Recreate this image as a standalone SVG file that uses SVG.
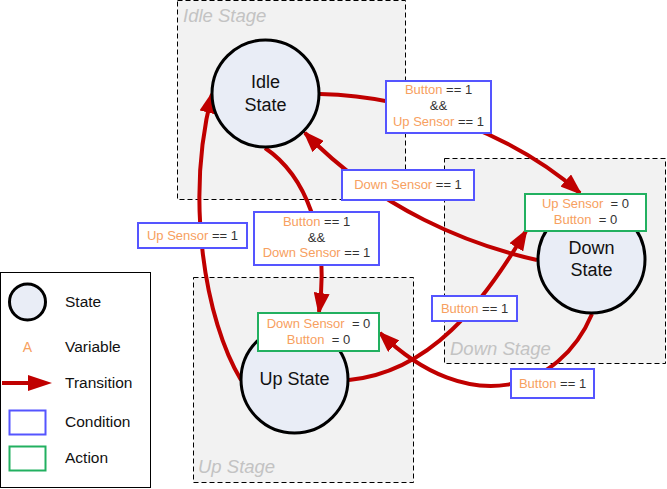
<svg xmlns="http://www.w3.org/2000/svg" width="667" height="489" viewBox="0 0 667 489">
<style>
.stage{fill:#f2f2f2;stroke:#000;stroke-width:1;stroke-dasharray:5,3}
.stlbl{font-family:"Liberation Sans",Arial,sans-serif;font-size:18.5px;font-style:italic;fill:#c3c3c3}
.state{fill:#e9edf6;stroke:#000;stroke-width:3}
.sttxt{font-family:"Liberation Sans",Arial,sans-serif;font-size:18px;fill:#111;text-anchor:middle}
.cond{fill:#fff;stroke:#5555ff;stroke-width:2}
.act{fill:#fff;stroke:#22b060;stroke-width:2}
.bt{font-family:"Liberation Sans",Arial,sans-serif;font-size:13px;fill:#333;text-anchor:middle;white-space:pre}
.v{fill:#f7a060}
.edge{fill:none;stroke:#c00000;stroke-width:4;marker-end:url(#ah)}
.lg{font-family:"Liberation Sans",Arial,sans-serif;font-size:15.5px;fill:#111}
</style>
<defs>
<marker id="ah" viewBox="0 0 22 16" refX="19" refY="8" markerWidth="22" markerHeight="16" markerUnits="userSpaceOnUse" orient="auto">
<path d="M0,0 L22,8 L0,16 z" fill="#c00000"/>
</marker>
</defs>
<rect width="667" height="489" fill="#fff"/>
<g id="idle-stage"><rect class="stage" x="177.5" y="0.5" width="228" height="199"/><text class="stlbl" x="183" y="22">Idle Stage</text></g>
<g id="down-stage"><rect class="stage" x="444.5" y="158.5" width="221" height="205"/><text class="stlbl" x="450" y="355">Down Stage</text></g>
<g id="up-stage"><rect class="stage" x="193.5" y="277.5" width="220" height="205"/><text class="stlbl" x="198" y="473">Up Stage</text></g>
<g id="connectors">
<path class="edge" d="M320,94 C420,96 520,140 580,193"/>
<path class="edge" d="M537,260 C470,245 380,210 305,133"/>
<path class="edge" d="M265,148 C305,175 330,235 319,312"/>
<path class="edge" d="M241,380 C205,320 185,200 212,94"/>
<path class="edge" d="M349,380 C430,372 482,305 526,231"/>
<path class="edge" d="M592,314 C560,390 470,420 380,333"/>
</g>
<g id="idle-state"><circle class="state" cx="265.5" cy="93.5" r="53.5"/><text class="sttxt" x="265.5" y="88">Idle</text><text class="sttxt" x="265.5" y="111">State</text></g>
<g id="down-state"><circle class="state" cx="591.5" cy="259.5" r="53.5"/><text class="sttxt" x="591.5" y="254">Down</text><text class="sttxt" x="591.5" y="276">State</text></g>
<g id="up-state"><circle class="state" cx="294.5" cy="379.5" r="53.5"/><text class="sttxt" x="294.5" y="385">Up State</text></g>
<g id="cond-idle-down"><rect class="cond" x="386" y="81" width="105" height="52"/>
<text class="bt" x="438.5" y="94"><tspan class="v">Button</tspan> == 1</text>
<text class="bt" x="438.5" y="110">&amp;&amp;</text>
<text class="bt" x="438.5" y="126"><tspan class="v">Up Sensor</tspan> == 1</text></g>
<g id="cond-down-idle"><rect class="cond" x="342" y="170" width="132" height="30"/><text class="bt" x="408" y="189"><tspan class="v">Down Sensor</tspan> == 1</text></g>
<g id="cond-up-idle"><rect class="cond" x="138" y="223" width="109" height="25"/><text class="bt" x="192.5" y="240"><tspan class="v">Up Sensor</tspan> == 1</text></g>
<g id="cond-idle-up"><rect class="cond" x="254" y="212" width="125" height="53"/>
<text class="bt" x="316.5" y="226"><tspan class="v">Button</tspan> == 1</text>
<text class="bt" x="316.5" y="242">&amp;&amp;</text>
<text class="bt" x="316.5" y="257"><tspan class="v">Down Sensor</tspan> == 1</text></g>
<g id="cond-up-down"><rect class="cond" x="432" y="296" width="85" height="25"/><text class="bt" x="474.5" y="313"><tspan class="v">Button</tspan> == 1</text></g>
<g id="cond-down-up"><rect class="cond" x="511" y="369" width="83" height="29"/><text class="bt" x="552.5" y="388"><tspan class="v">Button</tspan> == 1</text></g>
<g id="act-down"><rect class="act" x="525" y="194" width="121" height="37"/>
<text class="bt" x="585.5" y="208"><tspan class="v">Up Sensor</tspan>  = 0</text>
<text class="bt" x="585.5" y="224"><tspan class="v">Button</tspan>  = 0</text></g>
<g id="act-up"><rect class="act" x="258" y="313" width="121" height="38"/>
<text class="bt" x="318.5" y="328"><tspan class="v">Down Sensor</tspan>  = 0</text>
<text class="bt" x="318.5" y="344"><tspan class="v">Button</tspan>  = 0</text></g>
<g id="legend">
<rect x="0.5" y="272.5" width="150" height="215" fill="#fff" stroke="#000" stroke-width="1"/>
<circle class="state" cx="27.5" cy="302" r="18"/>
<text class="lg" x="65" y="307">State</text>
<text x="27.5" y="352" font-family="Liberation Sans, Arial, sans-serif" font-size="14" fill="#f7a060" text-anchor="middle">A</text>
<text class="lg" x="65" y="352">Variable</text>
<line x1="2" y1="383" x2="32" y2="383" stroke="#c00000" stroke-width="4"/>
<path d="M28,375 L52,383 L28,391 z" fill="#c00000"/>
<text class="lg" x="65" y="388">Transition</text>
<rect x="9.5" y="410.5" width="36" height="24" fill="#fff" stroke="#5555ff" stroke-width="2"/>
<text class="lg" x="65" y="427">Condition</text>
<rect x="9.5" y="446.5" width="36" height="24" fill="#fff" stroke="#22b060" stroke-width="2"/>
<text class="lg" x="65" y="463">Action</text>
</g>
</svg>
